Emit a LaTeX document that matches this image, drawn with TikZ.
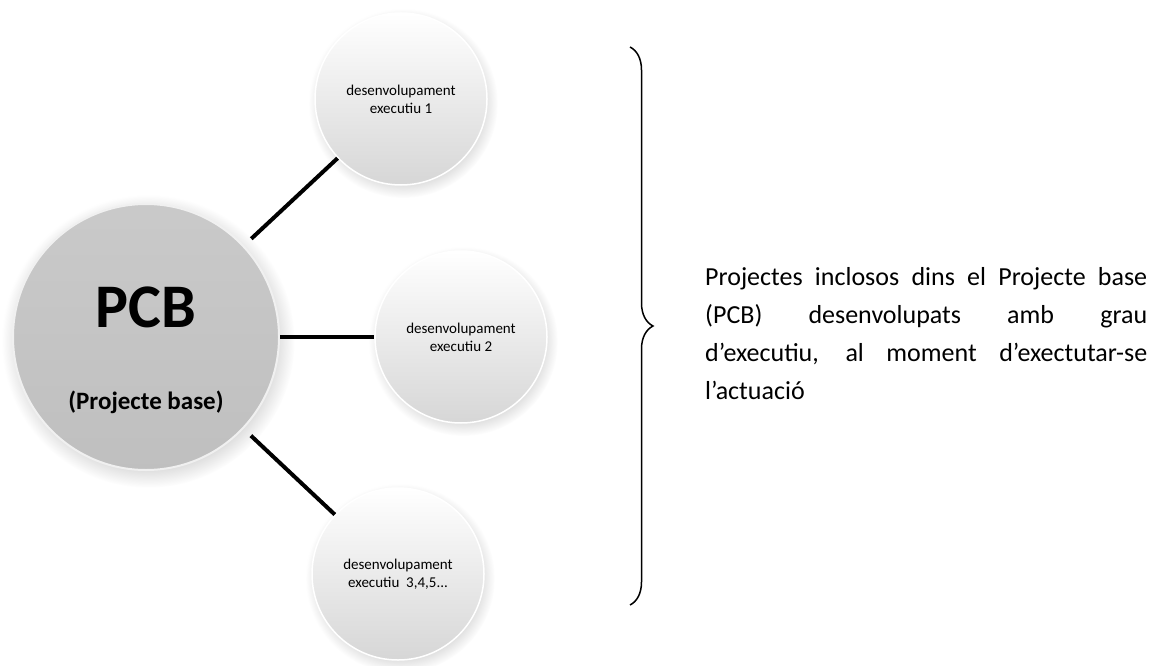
\documentclass[tikz,border=0pt]{standalone}
\usepackage{fontspec}
\setmainfont{Carlito}
\usetikzlibrary{decorations.pathreplacing, shadows}

\begin{document}
\begin{tikzpicture}[
  x=1pt, y=-1pt,
  bigball/.style={circle, minimum size=266pt, inner sep=0pt,
    top color=gray!42, bottom color=gray!50, draw=gray!12, line width=2pt,
    circular drop shadow={shadow xshift=2pt, shadow yshift=-4pt, opacity=0.3}},
  ball/.style={circle, minimum size=172pt, inner sep=0pt, align=center,
    top color=white, bottom color=gray!32, draw=white, line width=1.5pt,
    font=\fontsize{15}{18}\selectfont,
    circular drop shadow={shadow xshift=2pt, shadow yshift=-4pt, opacity=0.25}},
  link/.style={line width=4pt},
  brace/.style={decorate, decoration={brace, amplitude=23pt}, line width=1.5pt}
]
  \useasboundingbox (0,0) rectangle (1161,666);

  \node[bigball] (pcb) at (146,337) {};
  \node[font=\fontsize{62}{62}\selectfont\bfseries] (pcbname)
    at ([yshift=30pt]pcb.center) {PCB};
  \node[font=\fontsize{25}{25}\selectfont\bfseries] (pcbsub)
    at ([yshift=-65pt]pcb.center) {(Projecte base)};

  \node[ball] (dev1) at (401,99) {desenvolupament\\executiu 1};
  \node[ball] (dev2) at (461,337) {desenvolupament\\executiu 2};
  \node[ball] (dev3) at (398,574) {desenvolupament\\executiu\ \ 3,4,5...};

  \draw[link, shorten <=10pt] (pcb) -- (dev1);
  \draw[link] (pcb) -- (dev2);
  \draw[link, shorten <=10pt] (pcb) -- (dev3);

  % brace round the three executive projects
  \coordinate (btop) at (630,47);
  \coordinate (bbot) at (630,605);
  \draw[brace] (btop) -- (bbot);

  \node[anchor=base west, text width=442pt, align=justify, inner sep=0pt,
    font=\fontsize{26}{38}\selectfont] (desc) at (705,285)
    {Projectes inclosos dins el Projecte base\linebreak
     (PCB) desenvolupats amb grau\linebreak
     d’executiu, al moment d’exectutar-se\linebreak
     l’actuació};
\end{tikzpicture}
\end{document}
